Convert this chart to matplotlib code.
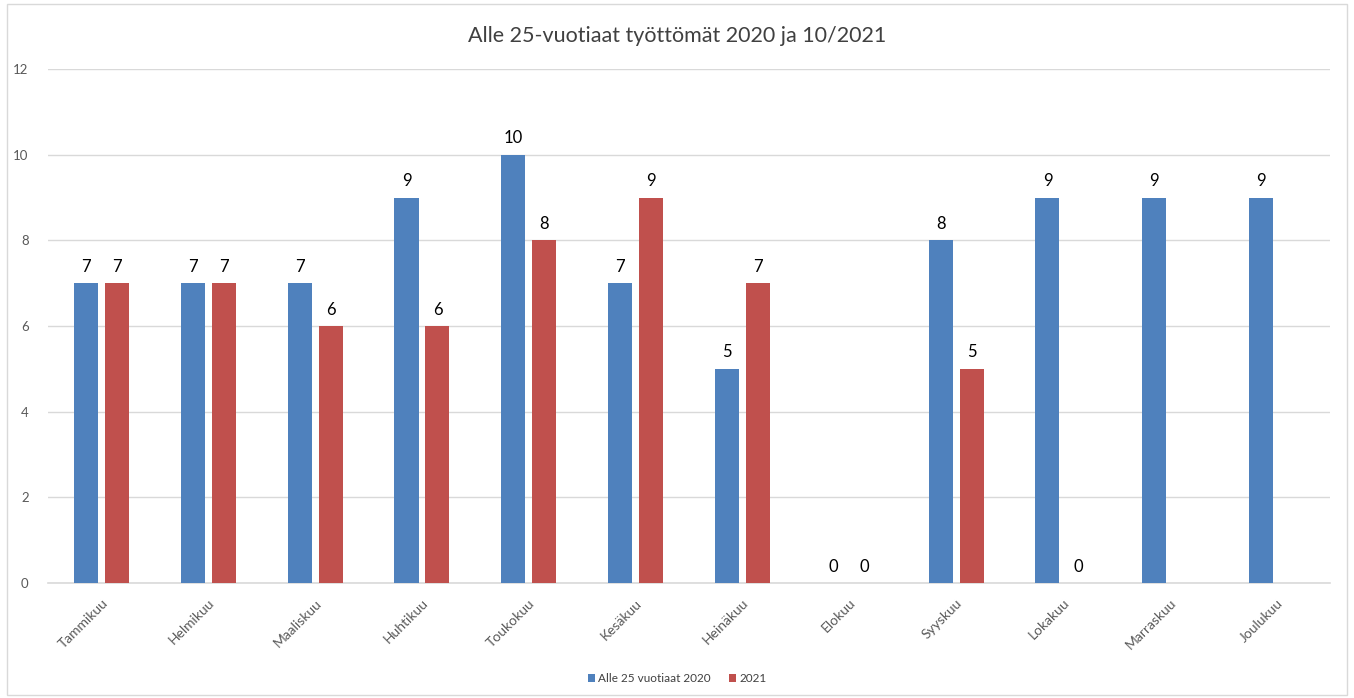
import matplotlib
matplotlib.use("Agg")
import matplotlib.pyplot as plt
import numpy as np
from matplotlib.patches import Rectangle

months = ["Tammikuu", "Helmikuu", "Maaliskuu", "Huhtikuu", "Toukokuu", "Kesäkuu",
          "Heinäkuu", "Elokuu", "Syyskuu", "Lokakuu", "Marraskuu", "Joulukuu"]
s2020 = [7, 7, 7, 9, 10, 7, 5, 0, 8, 9, 9, 9]
s2021 = [7, 7, 6, 6, 8, 9, 7, 0, 5, 0, None, None]
series_names = ["Alle 25 vuotiaat 2020", "2021"]
title = "Alle 25-vuotiaat työttömät 2020 ja 10/2021"
yticks = [0, 2, 4, 6, 8, 10, 12]

plt.rcParams['font.family'] = ['Lato', 'DejaVu Sans']

fig = plt.figure(figsize=(13.54, 6.98), dpi=100)
ax = fig.add_axes([0.0355, 0.1648, 0.9468, 0.7363])

blue = "#4f81bd"
red = "#c0504d"
x = np.arange(len(months))
w = 0.225
off = 0.145

def draw(vals, dx, color, label):
    xs = [xi + dx for xi, v in zip(x, vals) if v is not None]
    vs = [v for v in vals if v is not None]
    bars = ax.bar(xs, vs, width=w, color=color, label=label, zorder=3)
    for xi, v in zip(xs, vs):
        ax.annotate(str(v), (xi, v), xytext=(0, 6), textcoords="offset points",
                    ha="center", va="bottom", fontsize=12, color="#000000")
    return bars

draw(s2020, -off, blue, series_names[0])
draw(s2021, off, red, series_names[1])

ax.set_xlim(-0.5, len(months) - 0.5)
ax.set_ylim(0, 12)
ax.set_yticks(yticks)
ax.set_yticklabels([str(t) for t in yticks], fontsize=9.5, color="#595959")
ax.set_xticks(x)
ax.set_xticklabels(months, rotation=45, ha="right", rotation_mode="anchor",
                   fontsize=10, color="#595959")
ax.tick_params(axis="both", length=0)
ax.tick_params(axis="y", pad=14)
ax.tick_params(axis="x", pad=10)
ax.grid(axis="y", color="#d9d9d9", linewidth=1, zorder=0)
for s in ["top", "right", "left"]:
    ax.spines[s].set_visible(False)
ax.spines["bottom"].set_color("#d9d9d9")
ax.spines["bottom"].set_linewidth(1.2)

fig.text(0.5, 0.949, title, ha="center", va="center", fontsize=15.5, color="#404040")

leg = fig.legend(loc="center", bbox_to_anchor=(0.5, 0.028), ncol=2, frameon=False,
                 fontsize=8.5, handlelength=0.6, handleheight=0.6, handletextpad=0.3,
                 columnspacing=1.5)
for t in leg.get_texts():
    t.set_color("#404040")

fig.patches.append(Rectangle((0.005, 0.004), 0.99, 0.99, transform=fig.transFigure,
                             fill=False, edgecolor="#d9d9d9", linewidth=1))

fig.savefig("out.png", dpi=100)
